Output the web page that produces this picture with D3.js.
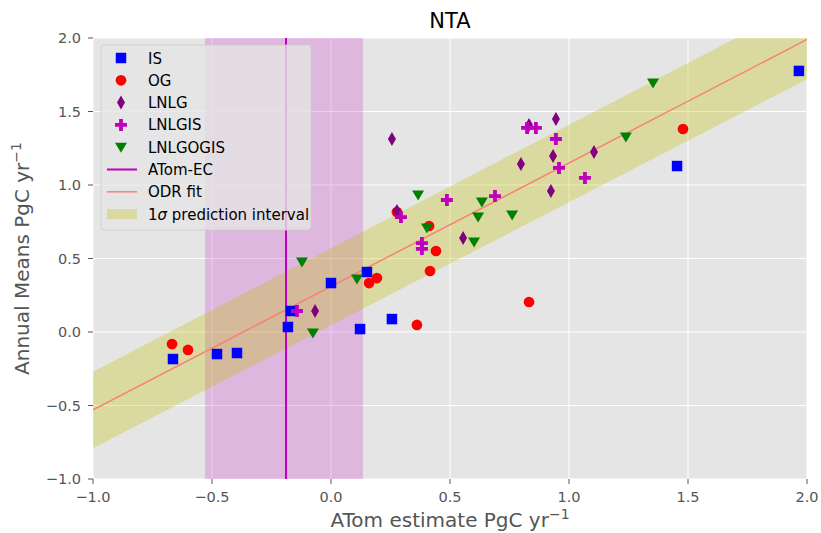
<!DOCTYPE html>
<html><head><meta charset="utf-8">
<script src="https://cdn.jsdelivr.net/npm/d3@7"></script>
<style>body{margin:0;background:#fff}svg{display:block;font-family:"DejaVu Sans",sans-serif}</style>
</head><body><svg id="c" width="821" height="533"></svg>
<script>
const xTicks=[-1.0,-0.5,0.0,0.5,1.0,1.5,2.0];
const yTicks=[-1.0,-0.5,0.0,0.5,1.0,1.5,2.0];
const IS_x=[-0.664,-0.479,-0.395,-0.181,-0.168,0.0,0.151,0.122,0.256,1.454,1.966];
const IS_y=[-0.184,-0.150,-0.143,0.034,0.143,0.333,0.408,0.020,0.088,1.129,1.776];
const OG_x=[-0.668,-0.601,0.160,0.193,0.361,0.416,0.441,0.412,0.277,0.832,1.479];
const OG_y=[-0.082,-0.122,0.333,0.367,0.048,0.415,0.551,0.721,0.816,0.204,1.381];
const LNLG_x=[0.256,0.277,0.555,0.798,0.832,0.945,0.933,0.924,1.105,-0.067];
const LNLG_y=[1.313,0.823,0.639,1.143,1.408,1.449,1.197,0.959,1.224,0.143];
const LNLGIS_x=[0.294,0.382,0.382,0.487,0.689,0.824,0.861,0.945,0.958,1.067,-0.143];
const LNLGIS_y=[0.782,0.605,0.565,0.898,0.925,1.388,1.388,1.313,1.116,1.048,0.143];
const LNLGOGIS_x=[-0.122,0.109,-0.076,0.366,0.634,0.618,0.403,0.761,0.601,1.239,1.353];
const LNLGOGIS_y=[0.476,0.361,-0.007,0.932,0.884,0.782,0.707,0.796,0.612,1.327,1.694];
const atomEC=-0.189, atomLo=-0.529, atomHi=0.134;
const fitX=[-1.0,2.0], fitY=[-0.53,1.99];
const bandUpper=[-0.27,2.25], bandLower=[-0.79,1.72];

const svg=d3.select("#c");
const L=93,R=807,T=38,B=479;
const x=d3.scaleLinear().domain([-1,2]).range([L,R]);
const y=d3.scaleLinear().domain([-1,2]).range([B,T]);
svg.append("rect").attr("x",L).attr("y",T).attr("width",R-L).attr("height",B-T).attr("fill","#E5E5E5");
const g=svg.append("g");
svg.append("clipPath").attr("id","cp").append("rect").attr("x",L).attr("y",T).attr("width",R-L).attr("height",B-T);
xTicks.forEach(t=>g.append("line").attr("x1",x(t)).attr("x2",x(t)).attr("y1",T).attr("y2",B).attr("stroke","#fff").attr("stroke-width",1));
yTicks.forEach(t=>g.append("line").attr("y1",y(t)).attr("y2",y(t)).attr("x1",L).attr("x2",R).attr("stroke","#fff").attr("stroke-width",1));
const pg=svg.append("g").attr("clip-path","url(#cp)");
pg.append("rect").attr("x",x(atomLo)).attr("width",x(atomHi)-x(atomLo)).attr("y",T).attr("height",B-T).attr("fill","#BF00BF").attr("opacity",0.2);
const band=fitX.map((v,i)=>({x:v,u:bandUpper[i],l:bandLower[i]}));
pg.append("path").datum(band).attr("d",d3.area().x(d=>x(d.x)).y0(d=>y(d.l)).y1(d=>y(d.u))).attr("fill","#BFBF00").attr("opacity",0.3);
pg.append("path").datum(fitX.map((v,i)=>[v,fitY[i]])).attr("d",d3.line().x(d=>x(d[0])).y(d=>y(d[1]))).attr("stroke","#FA8072").attr("stroke-width",1.5).attr("fill","none");
pg.append("line").attr("x1",x(atomEC)).attr("x2",x(atomEC)).attr("y1",T).attr("y2",B).attr("stroke","#BF00BF").attr("stroke-width",2);

const sym={
 sq:d3.symbol().type(d3.symbolSquare).size(110),
 ci:d3.symbol().type(d3.symbolCircle).size(90),
 di:"M0,-7L4,0L0,7L-4,0Z",
 pl:"M-1.9,-6H1.9V-1.9H6V1.9H1.9V6H-1.9V1.9H-6V-1.9H-1.9Z",
 tr:"M-6,-4.5H6L0,5.5Z"
};
function pts(xs,ys,shape,color){
  const p=typeof sym[shape]==="string"?sym[shape]:sym[shape]();
  pg.selectAll(null).data(xs.map((v,i)=>[v,ys[i]])).enter().append("path")
   .attr("d",p).attr("transform",d=>`translate(${x(d[0])},${y(d[1])})`).attr("fill",color);
}
pts(IS_x,IS_y,"sq","#0000FF");
pts(OG_x,OG_y,"ci","#FF0000");
pts(LNLG_x,LNLG_y,"di","#800080");
pts(LNLGIS_x,LNLGIS_y,"pl","#BF00BF");
pts(LNLGOGIS_x,LNLGOGIS_y,"tr","#008000");

const ax=svg.append("g").attr("fill","#555").attr("font-size",14.5);
xTicks.forEach(t=>{
  ax.append("line").attr("x1",x(t)).attr("x2",x(t)).attr("y1",B).attr("y2",B+5).attr("stroke","#555");
  ax.append("text").attr("x",x(t)).attr("y",B+23).attr("text-anchor","middle").text(d3.format(".1f")(t).replace("-","\u2212"));
});
yTicks.forEach(t=>{
  ax.append("line").attr("x1",L-5).attr("x2",L).attr("y1",y(t)).attr("y2",y(t)).attr("stroke","#555");
  ax.append("text").attr("x",L-12).attr("y",y(t)+5).attr("text-anchor","end").text(d3.format(".1f")(t).replace("-","\u2212"));
});
svg.append("text").attr("x",(L+R)/2).attr("y",28).attr("text-anchor","middle").attr("font-size",21).attr("fill","#000").text("NTA");
const xl=svg.append("text").attr("x",(L+R)/2).attr("y",527).attr("text-anchor","middle").attr("font-size",20).attr("fill","#555");
xl.append("tspan").text("ATom estimate PgC yr");
xl.append("tspan").attr("dy",-8).attr("font-size",14).text("\u22121");
const yl=svg.append("text").attr("transform",`translate(29,${(T+B)/2}) rotate(-90)`).attr("text-anchor","middle").attr("font-size",20).attr("fill","#555");
yl.append("tspan").text("Annual Means PgC yr");
yl.append("tspan").attr("dy",-8).attr("font-size",14).text("\u22121");

const lg=svg.append("g");
lg.append("rect").attr("x",101).attr("y",45).attr("width",210).attr("height",185).attr("rx",3).attr("fill","#E5E5E5").attr("fill-opacity",0.8).attr("stroke","#ccc").attr("stroke-width",0.8);
const items=[["IS","sq","#0000FF"],["OG","ci","#FF0000"],["LNLG","di","#800080"],["LNLGIS","pl","#BF00BF"],["LNLGOGIS","tr","#008000"],["ATom-EC","line","#BF00BF"],["ODR fit","line2","#FA8072"],["1σ prediction interval","patch","#BFBF00"]];
items.forEach((it,i)=>{
  const yy=58+i*22.3;
  if(it[1]==="line") lg.append("line").attr("x1",107).attr("x2",137).attr("y1",yy).attr("y2",yy).attr("stroke",it[2]).attr("stroke-width",2);
  else if(it[1]==="line2") lg.append("line").attr("x1",107).attr("x2",137).attr("y1",yy).attr("y2",yy).attr("stroke",it[2]).attr("stroke-width",1.5);
  else if(it[1]==="patch") lg.append("rect").attr("x",107).attr("y",yy-5).attr("width",30).attr("height",10).attr("fill",it[2]).attr("opacity",0.3);
  else {const p=typeof sym[it[1]]==="string"?sym[it[1]]:sym[it[1]]();
    lg.append("path").attr("d",p).attr("transform",`translate(121,${yy})`).attr("fill",it[2]);}
  const tx=lg.append("text").attr("x",148).attr("y",yy+5.5).attr("font-size",15).attr("fill","#000");
  if(i===7){tx.append("tspan").text("1");tx.append("tspan").attr("font-style","italic").text("σ");tx.append("tspan").text(" prediction interval");}
  else tx.text(it[0]);
});
</script></body></html>
